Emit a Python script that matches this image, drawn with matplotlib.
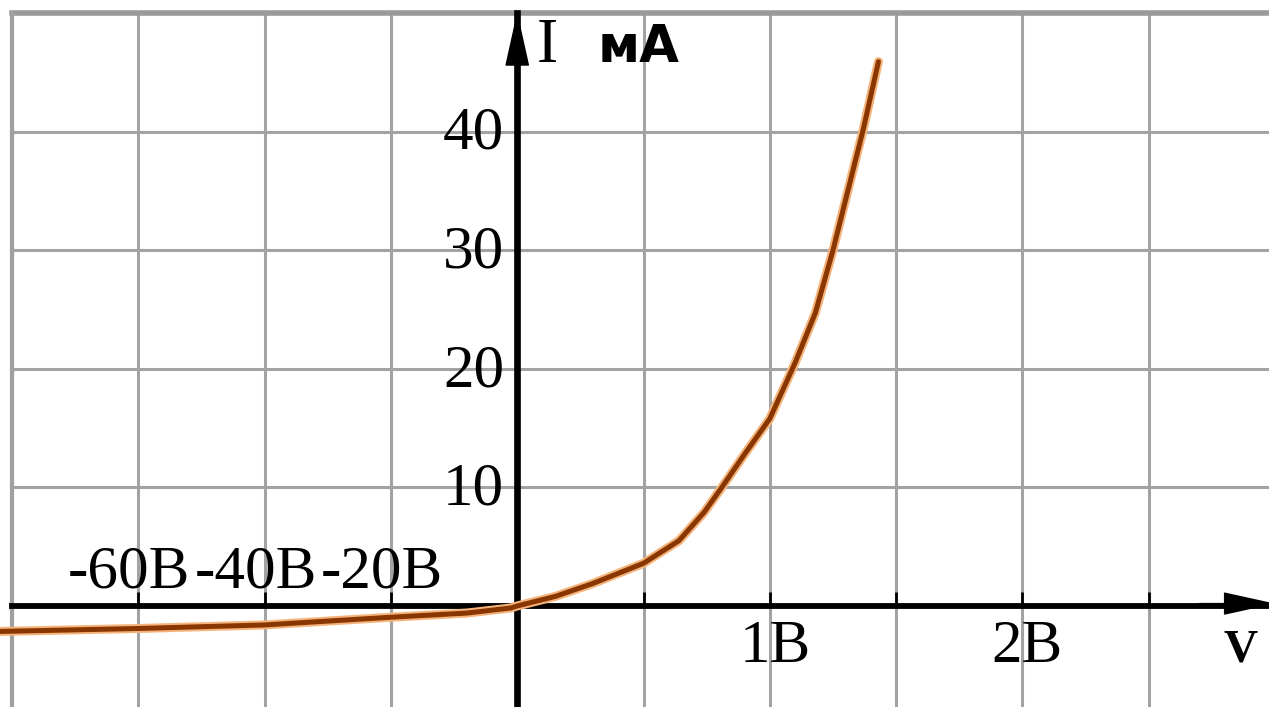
import numpy as np
import matplotlib.pyplot as plt

# diode I-V curve
# reverse branch: volts / current in chart units
rev_v = [-82, -60, -40, -20, -8, -1, 0]
rev_i = [-2.15, -1.9, -1.6, -0.95, -0.6, -0.17, 0]
# forward branch: volts / mA
fwd_v = [0.15, 0.30, 0.50, 0.64, 0.74, 0.81, 0.90, 1.00, 1.10, 1.18, 1.25, 1.37, 1.43]
fwd_i = [0.8, 1.9, 3.6, 5.5, 7.9, 10.0, 12.8, 15.8, 20.5, 24.7, 30.0, 40.2, 45.9]

grid_v = [-80, -60, -40, -20, 0, 0.5, 1, 1.5, 2, 2.5]
grid_i = [0, 10, 20, 30, 40, 50]

neg_ticks = [-60, -40, -20]
neg_labels = ["-60В", "-40В", "-20В"]
pos_ticks = [1, 2]
pos_labels = ["1В", "2В"]
i_ticks = [10, 20, 30, 40]
i_labels = ["10", "20", "30", "40"]


# one grid cell = 20 V on the reverse side, 0.5 V on the forward side
def fwd(v):
    v = np.asarray(v, dtype=float)
    return np.where(v < 0, v / 20.0, v / 0.5)


def inv(u):
    u = np.asarray(u, dtype=float)
    return np.where(u < 0, u * 20.0, u * 0.5)


W, H = 1269, 707
fig = plt.figure(figsize=(W / 100, H / 100), dpi=100)
# axes frame starts at the -80 V line (left) and the 50 mA line (top)
ax = fig.add_axes([12 / W, 0, (W - 12) / W, (H - 13) / H])
ax.set_xscale("function", functions=(fwd, inv))
ax.set_xlim(-80, 2.976)
ax.set_ylim(-8.52, 50)

ax.set_xticks(grid_v)
ax.set_yticks(grid_i)
ax.grid(True, color="#a3a3a3", lw=2.2)
ax.set_axisbelow(True)
ax.tick_params(labelbottom=False, labelleft=False)
ax.tick_params(axis="x", direction="in", length=10, width=2, color="black")
ax.tick_params(axis="y", length=0)

# axes through the origin
for side in ["top", "right"]:
    ax.spines[side].set_visible(False)
ax.spines["bottom"].set_position(("data", 0))
ax.spines["left"].set_position(("data", 0))
ax.spines["bottom"].set_linewidth(4.2)
ax.spines["left"].set_linewidth(4.8)

# heavier frame lines at top and left
ax.axhline(50, color="#9a9a9a", lw=4, zorder=1, clip_on=False)
ax.axvline(-80, color="#a0a0a0", lw=3, zorder=1, clip_on=False)

# arrow heads
ax.annotate("", xy=(0, 50.1), xytext=(0, 44), annotation_clip=False,
            arrowprops=dict(arrowstyle="-|>,head_length=3.6,head_width=0.8",
                            color="black", lw=1, shrinkA=0, shrinkB=0))
ax.annotate("", xy=(3.0, 0.2), xytext=(2.7, 0.2), annotation_clip=False,
            arrowprops=dict(arrowstyle="-|>,head_length=3.4,head_width=0.75",
                            color="black", lw=1, shrinkA=0, shrinkB=0))

# curve with a light orange halo
v_all = rev_v + fwd_v
i_all = rev_i + fwd_i
ax.plot(v_all, i_all, color="#f4b47c", lw=6.5, solid_capstyle="round",
        solid_joinstyle="round", zorder=4, clip_on=False)
ax.plot(v_all, i_all, color="#8a3600", lw=3.6, solid_capstyle="round",
        solid_joinstyle="round", zorder=5, clip_on=False)

lab_font = dict(family="Liberation Serif", fontsize=44, color="black")

for v, s in zip(neg_ticks, neg_labels):
    ax.annotate(s, (v, 0), xytext=(-6.5, 13), textcoords="offset points",
                ha="center", va="baseline", **lab_font)
for v, s in zip(pos_ticks, pos_labels):
    ax.annotate(s, (v, 0), xytext=(3.6, -40), textcoords="offset points",
                ha="center", va="baseline", **lab_font)
for i, s in zip(i_ticks, i_labels):
    ax.annotate(s, (0, i), xytext=(-9.4, -12.5), textcoords="offset points",
                ha="right", va="baseline", **lab_font)

# axis names
fig.text(537 / W, 1 - 62 / H, "I", family="Liberation Serif",
         fontsize=46, ha="left", va="baseline")
fig.text(598 / W, 1 - 62 / H, "мА", family="DejaVu Sans",
         fontweight="bold", fontsize=37, ha="left", va="baseline")
fig.text(1224 / W, 1 - 662 / H, "V", family="Liberation Serif",
         fontweight="bold", fontsize=34, ha="left", va="baseline")

fig.savefig("out.png", dpi=100)
